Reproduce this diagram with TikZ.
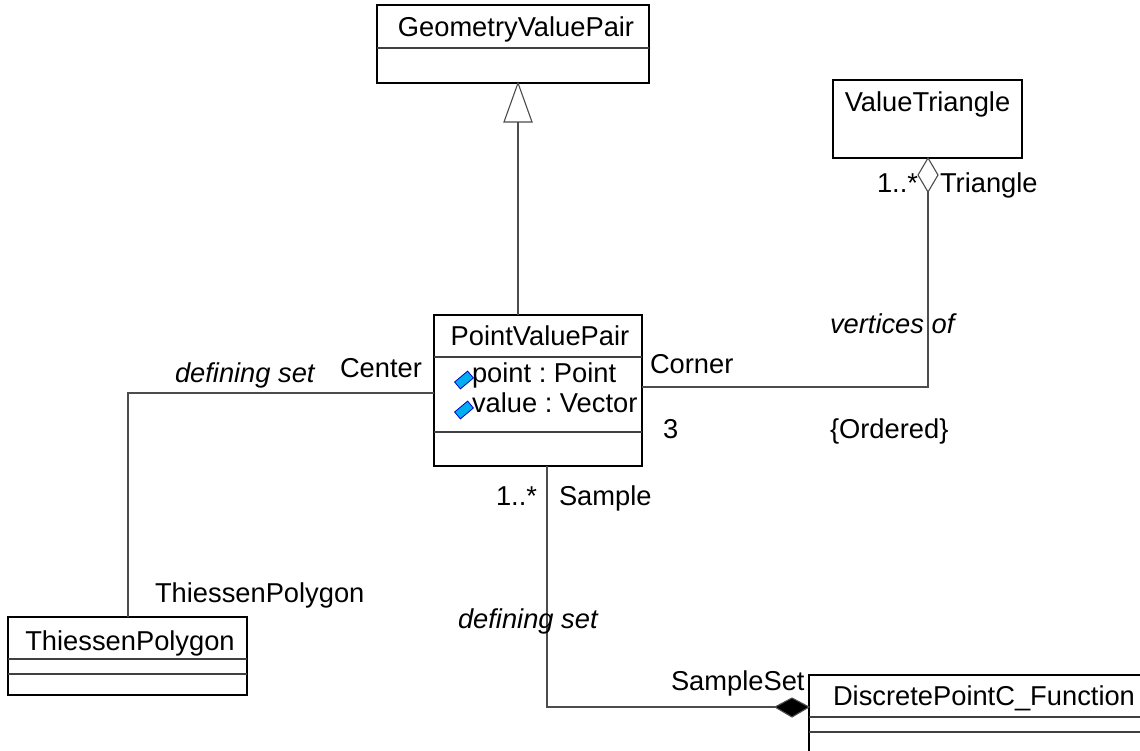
\documentclass[tikz,border=0pt]{standalone}
\usepackage{fontspec}
\setmainfont{Liberation Sans}
\frenchspacing
\begin{document}
\begin{tikzpicture}[x=1pt,y=-1pt,
  every node/.style={inner sep=0pt, outer sep=0pt, font=\fontsize{27.3}{31}\selectfont},
  classbox/.style={draw=black, line width=1.1pt, fill=white, anchor=north west},
  divider/.style={draw=black!75, line width=1.1pt},
  conn/.style={draw=black!70, line width=1.1pt},
  lbl/.style={anchor=base west},
  ilbl/.style={anchor=base west, font=\fontsize{27.3}{31}\selectfont\itshape},
  attricon/.style={draw=blue!75!black, fill=cyan, line width=0.8pt,
    minimum width=17pt, minimum height=9pt, rotate=40}
]
\useasboundingbox (0,0) rectangle (1140,751);
\clip (0,0) rectangle (1140,751);

% class boxes
\node[classbox, minimum width=272pt, minimum height=78pt] (gvp) at (377,5) {};
\draw[divider] (377,48) -- (649,48);
\node[anchor=base] (gvpname) at (516,37) {GeometryValuePair};

\node[classbox, minimum width=189pt, minimum height=78pt] (vt) at (833,80) {};
\node[anchor=base] (vtname) at (927.5,112) {ValueTriangle};

\node[classbox, minimum width=208pt, minimum height=151pt] (pvp) at (434,315) {};
\draw[divider] (434,357) -- (642,357);
\draw[divider] (434,432) -- (642,432);
\node[anchor=base] (pvpname) at (540,345) {PointValuePair};
\node[attricon] (ic1) at (464,380) {};
\node[attricon] (ic2) at (464,410) {};
\node[lbl] (attr1) at (472,382) {point : Point};
\node[lbl] (attr2) at (472,412) {value : Vector};

\node[classbox, minimum width=239pt, minimum height=78pt] (tp) at (8,617) {};
\draw[divider] (8,659) -- (247,659);
\draw[divider] (8,674) -- (247,674);
\node[anchor=base] (tpname) at (130,650) {ThiessenPolygon};

\node[classbox, minimum width=360pt, minimum height=100pt] (dpf) at (809,675) {};
\draw[divider] (809,717) -- (1169,717);
\draw[divider] (809,732) -- (1169,732);
\node[lbl] (dpfname) at (833,705) {DiscretePointC\_Function};

% connector end points
\coordinate (genbase) at (518,122);
\coordinate (lc) at (128,393);
\coordinate (rc) at (928,387);
\coordinate (aggbot) at (928,192);
\coordinate (bc) at (547,707);
\coordinate (compl) at (775,707);

% generalization PointValuePair -> GeometryValuePair
\draw[conn] (pvp.north -| genbase) -- (genbase);
\draw[conn, fill=white] (504,122) -- (gvp.south -| genbase) -- (532,122) -- cycle;

% association to ThiessenPolygon
\draw[conn] (pvp.west |- lc) -- (lc) -- (tp.north -| lc);

% aggregation to ValueTriangle
\draw[conn] (pvp.east |- rc) -- (rc) -- (aggbot);
\draw[conn, fill=white] (vt.south -| rc) -- (938,175) -- (aggbot) -- (918,175) -- cycle;

% composition to DiscretePointC_Function
\draw[conn] (pvp.south -| bc) -- (bc) -- (compl);
\draw[conn, fill=black] (compl) -- (792,698) -- (dpf.west |- bc) -- (792,717) -- cycle;

% role names, multiplicities, association names
\node[ilbl] (ds1) at (175,382) {defining set};
\node[lbl] (center) at (340,377) {Center};
\node[lbl] (tprole) at (155,602) {ThiessenPolygon};

\node[ilbl] (vof) at (830,333) {vertices of};
\node[lbl] (corner) at (650,373) {Corner};
\node[lbl] (three) at (663,438) {3};
\node[lbl] (ord) at (830,438) {\{Ordered\}};
\node[lbl] (m1) at (877,193) {1..*};
\node[lbl] (tri) at (940,193) {Triangle};

\node[lbl] (m2) at (496,505) {1..*};
\node[lbl] (sample) at (559,505) {Sample};
\node[ilbl] (ds2) at (458,628) {defining set};
\node[lbl] (sset) at (671,690) {SampleSet};
\end{tikzpicture}
\end{document}
